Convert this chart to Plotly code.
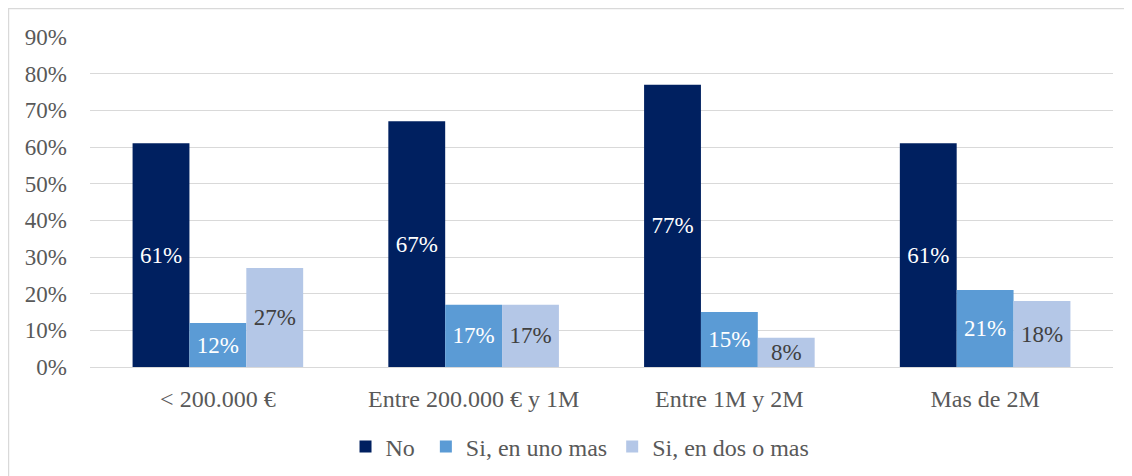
import plotly.graph_objects as go

categories = ["< 200.000 €", "Entre 200.000 € y 1M", "Entre 1M y 2M", "Mas de 2M"]
no_values = [0.61, 0.67, 0.77, 0.61]
uno_values = [0.12, 0.17, 0.15, 0.21]
dos_values = [0.27, 0.17, 0.08, 0.18]

series = [
    ("No\u00a0", no_values, "#002060", "white"),
    ("Si, en uno mas", uno_values, "#5B9BD5", "white"),
    ("Si, en dos o mas", dos_values, "#B4C7E7", "#404040"),
]

FONT = "Liberation Serif, Times New Roman, serif"

fig = go.Figure()
for name, vals, color, txtcolor in series:
    fig.add_trace(go.Bar(
        x=categories,
        y=vals,
        name=name,
        marker=dict(color=color, line=dict(width=0)),
        text=[f"{round(v * 100)}%" for v in vals],
        textposition="inside",
        insidetextanchor="middle",
        constraintext="none",
        textangle=0,
        textfont=dict(family=FONT, size=23, color=txtcolor),
    ))

# the page body adds an 8px offset, so margins are shifted to compensate
fig.update_layout(
    width=1132, height=476,
    barmode="group",
    bargap=0.333,
    bargroupgap=0,
    plot_bgcolor="white",
    paper_bgcolor="white",
    margin=dict(l=82, r=27, t=29, b=117),
    font=dict(family=FONT, size=24, color="#595959"),
    legend=dict(
        orientation="h",
        x=0.479, xanchor="center",
        y=-0.242, yanchor="middle",
        font=dict(family=FONT, size=24, color="#595959"),
        itemwidth=30,
        traceorder="normal",
    ),
    xaxis=dict(
        showgrid=False,
        showline=True, linecolor="#D9D9D9", linewidth=1,
        ticks="", ticklabelstandoff=10,
        tickfont=dict(family=FONT, size=24, color="#595959"),
    ),
    yaxis=dict(
        range=[0, 0.9],
        dtick=0.1,
        tickformat=".0%",
        showgrid=True, gridcolor="#D9D9D9", gridwidth=1,
        zeroline=True, zerolinecolor="#D9D9D9", zerolinewidth=1,
        ticks="", ticklabelstandoff=22,
        tickfont=dict(family=FONT, size=23, color="#595959"),
    ),
    shapes=[dict(
        type="rect", xref="paper", yref="paper",
        x0=-0.0797, x1=1.05, y0=-0.40, y1=1.0864,
        line=dict(color="#D9D9D9", width=1.5),
        fillcolor="rgba(0,0,0,0)",
        layer="below",
    )],
)

fig.write_html("out.html")
